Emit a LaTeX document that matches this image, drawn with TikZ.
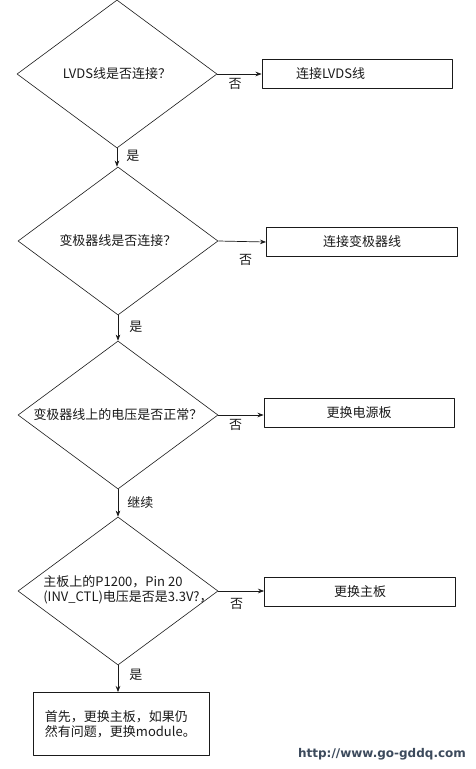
\documentclass[tikz,border=0pt]{standalone}
\usepackage{fontspec}
\setmainfont{Noto Sans CJK SC}
\newfontfamily\urlfont{DejaVu Sans}
\usepackage{tikz}
\usetikzlibrary{arrows.meta,shapes.geometric}
\definecolor{ink}{HTML}{1A1A1A}
\definecolor{mark}{HTML}{3C4A5C}
\tikzset{
  every picture/.style={
    font=\fontsize{13}{15}\selectfont,
    line join=round,
    >=Stealth,                      % filled tips on all connectors
  },
  decision/.style={diamond, draw=ink, line width=0.6pt, inner sep=0pt,
    minimum width=200pt, minimum height=148pt},
  action/.style={rectangle, draw=ink, line width=0.8pt, minimum height=29pt,
    text=ink},
  flow/.style={->, ink, line width=0.7pt},
  answer/.style={text=ink, inner sep=1pt},
}
\begin{document}
\begin{tikzpicture}[x=1pt, y=-1pt]
\useasboundingbox (0,0) rectangle (476,769);
% decisions down the left column
\node[decision] (d1) at (117,74) {};
\node[text=ink] (t1) at (d1) {LVDS线是否连接？};
\node[decision] (d2) at (118,241) {};
\node[text=ink] (t2) at (d2) {变极器线是否连接？};
\node[decision] (d3) at (118,415) {};
\node[text=ink] (t3) at (d3) {变极器线上的电压是否正常？};
\node[decision] (d4) at (118,591) {};
\node[text=ink, align=left, inner sep=0pt] (t4) at (128,590)
  {主板上的P1200，Pin 20\\(INV\_CTL)电压是否是3.3V?，};

% actions on the right
\node[action, minimum width=190pt, align=left, text width=122pt, inner xsep=34pt] (b1) at (357,74) {连接LVDS线};
\node[action, minimum width=191pt] (b2) at (362,242) {连接变极器线};
\node[action, minimum width=190pt] (b3) at (359,413) {更换电源板};
\node[action, minimum width=191pt] (b4) at (360,592) {更换主板};
\node[action, minimum height=63pt, align=left, text width=152pt, inner xsep=12pt] (b5) at (121,724)
  {首先，更换主板，如果仍\\然有问题，更换module。};

% no branches
\draw[flow] (d1.east) -- (b1.west) node[answer, pos=0.4, below=3pt] {否};
\draw[flow] (d2.east) -- (b2.west) node[answer, pos=0.57, below=11pt] {否};
\draw[flow] (d3.east) -- (b3.west |- d3.east) node[answer, pos=0.38, below=3pt] {否};
\draw[flow] (d4.east) -- (b4.west |- d4.east) node[answer, pos=0.4, below=6pt] {否};

% yes branches
\draw[flow] (d1.south) -- (d1.south |- d2.north) node[answer, pos=0.4, right=8pt] {是};
\draw[flow] (d2.south) -- (d3.north) node[answer, pos=0.45, right=10pt] {是};
\draw[flow] (d3.south) -- (d4.north) node[answer, pos=0.5, right=8pt] {继续};
\draw[flow] (d4.south) -- (d4.south |- b5.north) node[answer, pos=0.35, right=10pt] {是};

\node[text=mark, font=\urlfont\bfseries\fontsize{12}{14}\selectfont] (url) at (382,754) {http://www.go-gddq.com};
\end{tikzpicture}
\end{document}
